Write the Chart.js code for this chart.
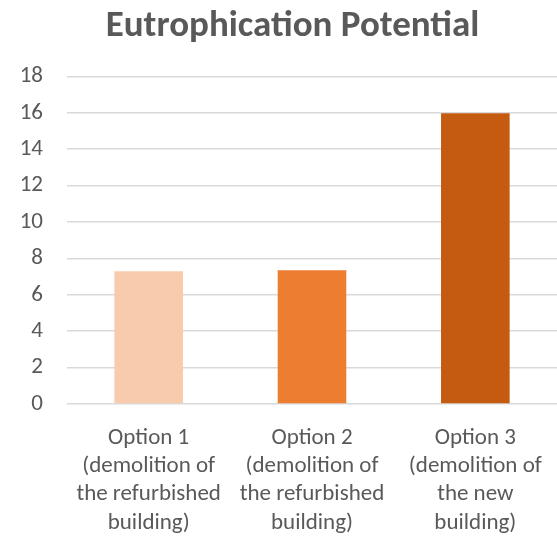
<!DOCTYPE html>
<html>
<head>
<meta charset="utf-8">
<script src="https://cdn.jsdelivr.net/npm/chart.js@4"></script>
<style>
  html, body { margin: 0; padding: 0; background: #fff; }
  #wrap { width: 557px; height: 539px; }
</style>
</head>
<body>
<div id="wrap"><canvas id="epChart"></canvas></div>
<script>
const categories = [
    ['Option 1', '(demolition of', 'the refurbished', 'building)'],
    ['Option 2', '(demolition of', 'the refurbished', 'building)'],
    ['Option 3', '(demolition of', 'the new', 'building)']
];
const values = [7.3, 7.35, 15.97];
const barColors = ['#F8CBAD', '#ED7D31', '#C55A11'];
const yTicks = [0, 2, 4, 6, 8, 10, 12, 14, 16, 18];

const fontFamily = "Carlito, 'Open Sans', sans-serif";
const textColor = '#595959';

// the original title sits a bit right of the canvas centre
const titleShift = {
    id: 'titleShift',
    afterLayout(chart) {
        if (chart.titleBlock) chart.titleBlock.left += 28;
    }
};

const ctx = document.getElementById('epChart');

new Chart(ctx, {
    type: 'bar',
    data: {
        labels: categories,
        datasets: [{
            label: 'Eutrophication Potential',
            data: values,
            backgroundColor: barColors,
            borderWidth: 0,
            barPercentage: 0.42,
            categoryPercentage: 1.0
        }]
    },
    options: {
        responsive: true,
        maintainAspectRatio: false,
        animation: false,
        layout: { padding: 0 },
        plugins: {
            legend: { display: false },
            tooltip: { enabled: false },
            title: {
                display: true,
                text: 'Eutrophication Potential',
                color: textColor,
                font: { family: fontFamily, size: 37, weight: 'bold', lineHeight: 1.2 },
                padding: { top: 5, bottom: 27 }
            }
        },
        scales: {
            x: {
                grid: { display: false },
                border: { display: false },
                ticks: {
                    color: textColor,
                    font: { family: fontFamily, size: 23, lineHeight: 1.23 },
                    maxRotation: 0,
                    autoSkip: false,
                    padding: 12
                },
                afterFit: axis => { axis.height = 135; }
            },
            y: {
                min: 0,
                max: 18,
                afterBuildTicks: axis => { axis.ticks = yTicks.map(v => ({ value: v })); },
                grid: { color: '#D9D9D9', lineWidth: 1.6, drawTicks: false },
                border: { display: false },
                ticks: {
                    color: textColor,
                    font: { family: fontFamily, size: 23 },
                    padding: 24
                },
                afterFit: axis => { axis.width = 67; }
            }
        }
    },
    plugins: [titleShift]
});
</script>
</body>
</html>
